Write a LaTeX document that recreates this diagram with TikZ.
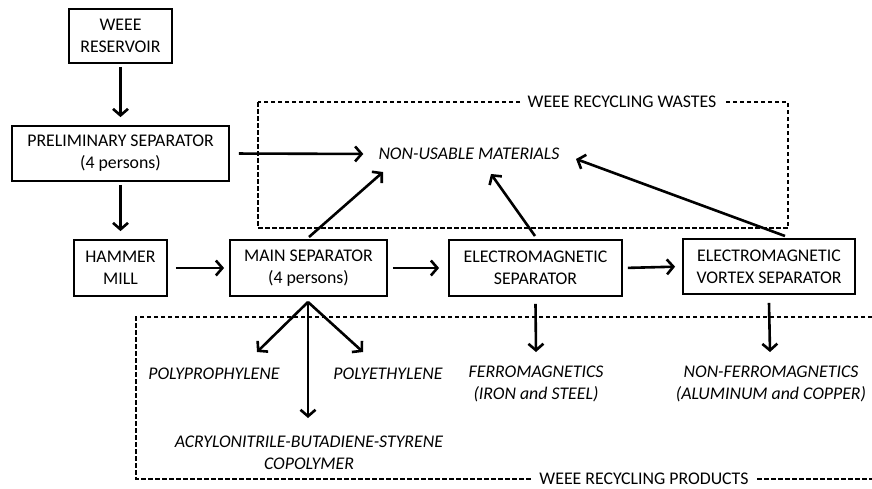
\documentclass[tikz,border=0pt]{standalone}
\usepackage{fontspec}
\setmainfont{Carlito}
\usetikzlibrary{arrows.meta}
\begin{document}
\begin{tikzpicture}[x=1pt,y=-1pt,
  every node/.style={font=\fontsize{17.8}{22}\selectfont},
  box/.style={draw,line width=1.8pt,align=center,inner sep=0pt},
  lbl/.style={align=center,inner sep=0pt,font=\fontsize{17.8}{22}\selectfont\itshape},
  arr/.style={line width=2.6pt,-{Straight Barb[length=6.5pt,width=15pt]}},
  dsh/.style={line width=1.7pt,dash pattern=on 4.5pt off 2.5pt},
  tag/.style={fill=white,inner xsep=7pt,inner ysep=3pt}]
\useasboundingbox (0,0) rectangle (872,488);
% boxes
\node[box,minimum width=103pt,minimum height=54pt] (res) at (120.5,36) {WEEE\\RESERVOIR};
\node[box,minimum width=217pt,minimum height=55pt] (pre) at (120.5,153.5) {PRELIMINARY SEPARATOR\\(4 persons)};
\node[box,minimum width=93pt,minimum height=56pt] (ham) at (120.5,268) {HAMMER\\MILL};
\node[box,minimum width=157pt,minimum height=56pt] (main) at (308.5,268) {MAIN SEPARATOR\\(4 persons)};
\node[box,minimum width=173pt,minimum height=56pt] (em) at (535.5,268) {ELECTROMAGNETIC\\SEPARATOR};
\node[box,minimum width=172pt,minimum height=55pt] (vor) at (769,266.5) {ELECTROMAGNETIC\\VORTEX SEPARATOR};
% dashed regions
\draw[dsh] (258,102) rectangle (788,228);
\node[tag] (wastes) at (622,102) {WEEE RECYCLING WASTES};
\draw[dsh] (872,317) -- (136,317) -- (136,479) -- (872,479);
\node[tag] (products) at (644,479) {WEEE RECYCLING PRODUCTS};
% labels
\node[lbl] (nu) at (469,154) {NON-USABLE MATERIALS};
\node[lbl] (pp) at (214,374) {POLYPROPHYLENE};
\node[lbl] (pe) at (388,374) {POLYETHYLENE};
\node[lbl] (abs) at (309,453) {ACRYLONITRILE-BUTADIENE-STYRENE\\COPOLYMER};
\node[lbl] (fe) at (536,384) {FERROMAGNETICS\\(IRON and STEEL)};
\node[lbl] (nfe) at (771,384) {NON-FERROMAGNETICS\\(ALUMINUM and COPPER)};
% coordinates
\coordinate (t1) at (383,172);
\coordinate (t2) at (491,174);
\coordinate (t3) at (576,159);
\coordinate (s1) at (309,237);
\coordinate (s2) at (535,236);
\coordinate (s3) at (785,236);
\coordinate (fork) at (308,302);
\coordinate (tpp) at (257,352);
\coordinate (tpe) at (363,352);
\coordinate (tabs) at (308,418);
\coordinate (tfe) at (536,352);
\coordinate (tnfe) at (770,352);
% arrows
\draw[arr,shorten <=3pt,shorten >=8pt] (res.south) -- (pre.north);
\draw[arr,shorten <=3pt,shorten >=8pt] (pre.south) -- (ham.north);
\draw[arr,shorten <=8pt,shorten >=5pt] (ham.east) -- (main.west);
\draw[arr,shorten <=5pt,shorten >=9pt] (main.east) -- (em.west);
\draw[arr,shorten <=5pt,shorten >=7pt] (em.east) -- (vor.west);
\draw[arr,shorten <=9pt,shorten >=15pt] (pre.east) -- (nu.west);
\draw[arr] (s1) -- (t1);
\draw[arr] (s2) -- (t2);
\draw[arr] (s3) -- (t3);
\draw[arr] (fork) -- (tpp);
\draw[arr] (fork) -- (tpe);
\draw[arr] (fork) -- (tabs);
\draw[arr] ([yshift=-7pt]em.south) -- (tfe);
\draw[arr] ([yshift=-8pt]vor.south) -- (tnfe);
\end{tikzpicture}
\end{document}
